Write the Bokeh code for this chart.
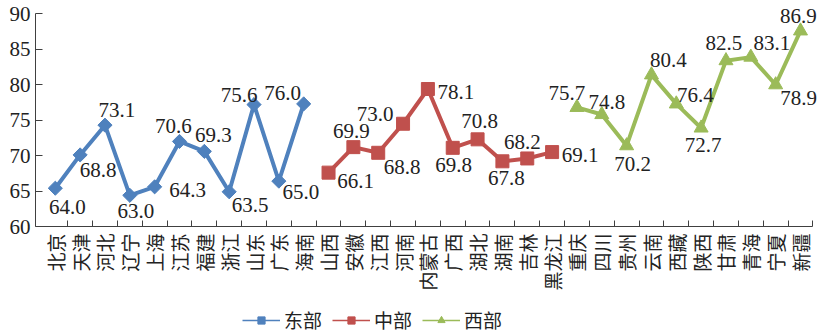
import math
from bokeh.plotting import figure
from bokeh.layouts import column
from bokeh.models import FixedTicker, ColumnDataSource, Legend, LegendItem, Range1d
from bokeh.core.properties import value
from bokeh.embed import file_html
from bokeh.resources import INLINE

# ---------------- data ----------------
east_names = ["北京", "天津", "河北", "辽宁", "上海", "江苏", "福建", "浙江", "山东", "广东", "海南"]
central_names = ["山西", "安徽", "江西", "河南", "内蒙古", "广西", "湖北", "湖南", "吉林", "黑龙江"]
west_names = ["重庆", "四川", "贵州", "云南", "西藏", "陕西", "甘肃", "青海", "宁夏", "新疆"]

# plotted marker values (as drawn in the picture)
east_values = [65.4, 70.1, 74.3, 64.4, 65.6, 72.0, 70.6, 64.9, 77.2, 66.4, 77.3]
central_values = [67.6, 71.2, 70.4, 74.5, 79.4, 71.1, 72.3, 69.2, 69.6, 70.5]
west_values = [76.8, 75.8, 71.4, 81.4, 77.3, 73.9, 83.4, 83.9, 80.0, 87.6]

# printed data labels
east_labels = ["64.0", "68.8", "73.1", "63.0", "64.3", "70.6", "69.3", "63.5", "75.6", "65.0", "76.0"]
central_labels = ["66.1", "69.9", "68.8", "73.0", "78.1", "69.8", "70.8", "67.8", "68.2", "69.1"]
west_labels = ["75.7", "74.8", "70.2", "80.4", "76.4", "72.7", "82.5", "83.1", "78.9", "86.9"]

series_names = ["东部", "中部", "西部"]
y_ticks = [60, 65, 70, 75, 80, 85, 90]

# ---------------- layout / style ----------------
east_offsets = [(12, 19), (18, 15), (12, -15), (6, 16), (33, 3), (-6, -15), (9, -16),
                (21, 13), (-15, -10), (22, 11), (-21, -11)]
central_offsets = [(27, 8), (-2, -16), (24, 14), (-28, -10), (28, 3), (1, 17), (2, -18),
                   (4, 17), (-5, -16), (28, 3)]
west_offsets = [(-10, -14), (5, -13), (6, 18), (17, -15), (19, -9), (2, 17), (-2, -18),
                (21, -14), (23, 13), (-2, -15)]

colors = ["#4F81BD", "#C0504D", "#9BBB59"]
markers = [("square", math.pi / 4, 10), ("square", 0, 13), ("triangle", 0, 14)]
NUM_FONT = "Liberation Serif"
CJK_FONT = "Noto Sans CJK SC"
TXT = "#222222"

all_names = east_names + central_names + west_names
n = len(all_names)

p = figure(width=823, height=300, output_backend="svg", toolbar_location=None,
           x_range=Range1d(-0.797, 30.926), y_range=Range1d(60, 91.89),
           min_border_left=35, min_border_right=0, min_border_top=0, min_border_bottom=74)
p.outline_line_color = None
p.xgrid.visible = False
p.ygrid.visible = False
p.background_fill_color = "white"

# x axis
xa = p.xaxis[0]
xa.ticker = FixedTicker(ticks=list(range(n)), minor_ticks=[i + 0.5 for i in range(n)])
xa.bounds = (-0.797, n - 0.5)
xa.major_label_overrides = {i: nm for i, nm in enumerate(all_names)}
xa.major_label_orientation = math.pi / 2
xa.major_tick_in = 0
xa.major_tick_out = 0
xa.minor_tick_in = 6
xa.minor_tick_out = 0
xa.minor_tick_line_color = "#404040"
xa.axis_line_color = "#404040"
xa.major_label_standoff = 7
xa.major_label_text_font = CJK_FONT
xa.major_label_text_font_size = "19px"
xa.major_label_text_color = TXT

# y axis
ya = p.yaxis[0]
ya.ticker = FixedTicker(ticks=y_ticks)
ya.bounds = (60, 90)
ya.major_tick_in = 7
ya.major_tick_out = 0
ya.minor_tick_in = 0
ya.minor_tick_out = 0
ya.major_tick_line_color = "#404040"
ya.axis_line_color = "#404040"
ya.major_label_standoff = 5
ya.major_label_text_font = NUM_FONT
ya.major_label_text_font_size = "21px"
ya.major_label_text_color = TXT

groups = [
    (east_values, east_labels, east_offsets, 0),
    (central_values, central_labels, central_offsets, len(east_names)),
    (west_values, west_labels, west_offsets, len(east_names) + len(central_names)),
]

# legend figure (below the chart)
lg = figure(width=823, height=35, output_backend="svg", toolbar_location=None,
            x_range=Range1d(0, 1), y_range=Range1d(0, 1),
            x_axis_type=None, y_axis_type=None,
            min_border_left=0, min_border_right=0, min_border_top=0, min_border_bottom=0)
lg.outline_line_color = None
lg.xgrid.visible = False
lg.ygrid.visible = False

nan = float("nan")
items = []
for k, (vals, labs, offs, start) in enumerate(groups):
    xs = list(range(start, start + len(vals)))
    src = ColumnDataSource(dict(x=xs, y=vals, t=labs,
                                dx=[o[0] for o in offs], dy=[o[1] for o in offs]))
    mk, ang, sz = markers[k]
    p.line("x", "y", source=src, line_width=4, color=colors[k])
    p.scatter("x", "y", source=src, marker=mk, angle=ang, size=sz, color=colors[k])
    p.text("x", "y", text="t", x_offset="dx", y_offset="dy", source=src,
           text_font=value(NUM_FONT), text_font_size="21px", text_color=TXT,
           text_align="center", text_baseline="middle")
    # legend proxies (thin line + small marker); NaN so nothing is drawn in the frame
    esrc = ColumnDataSource(dict(x=[nan], y=[nan]))
    lr = lg.line("x", "y", source=esrc, line_width=1.5, color=colors[k])
    sr = lg.scatter("x", "y", source=esrc, marker=mk, angle=ang, size=6, color=colors[k])
    items.append(LegendItem(label=series_names[k], renderers=[lr, sr]))

legend = Legend(items=items, orientation="horizontal", location=(207, 2),
                glyph_width=38, glyph_height=18, label_standoff=4, spacing=10,
                label_text_font=CJK_FONT, label_text_font_size="19px", label_text_color=TXT,
                border_line_color=None, background_fill_alpha=0, padding=0, margin=0)
lg.add_layout(legend, "center")

layout = column(p, lg, spacing=0)
open("out.html", "w").write(file_html(layout, INLINE))
